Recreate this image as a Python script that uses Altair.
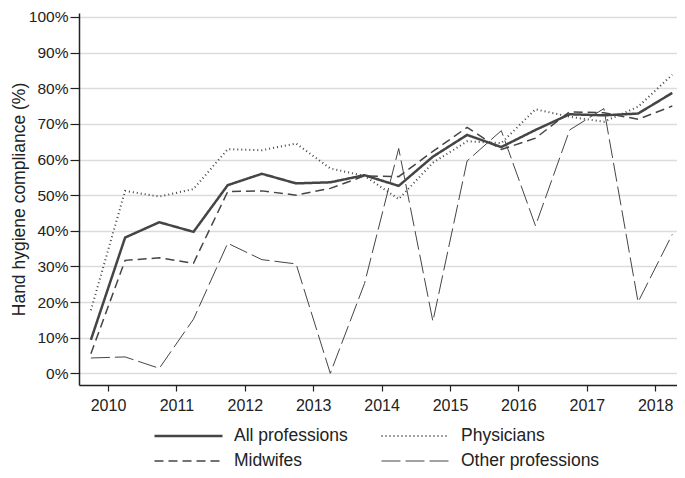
import altair as alt
import pandas as pd

periods = [2009.75, 2010.25, 2010.75, 2011.25, 2011.75, 2012.25, 2012.75, 2013.25, 2013.75,
           2014.25, 2014.75, 2015.25, 2015.75, 2016.25, 2016.75, 2017.25, 2017.75, 2018.25]

all_professions = [9.4, 38.1, 42.4, 39.7, 52.8, 56.0, 53.3, 53.6, 55.6,
                   52.6, 60.8, 66.9, 63.5, 68.3, 72.7, 72.4, 72.9, 78.7]
physicians = [17.7, 51.2, 49.6, 51.7, 62.9, 62.6, 64.5, 57.5, 55.4,
              48.9, 59.1, 65.1, 64.6, 74.1, 72.0, 70.6, 74.8, 83.8]
midwifes = [5.5, 31.7, 32.4, 30.9, 51.0, 51.2, 50.0, 51.9, 55.4,
            55.2, 62.3, 69.0, 62.8, 66.0, 73.4, 73.1, 71.3, 75.0]
other_professions = [4.3, 4.6, 1.4, 15.2, 36.5, 31.9, 30.7, 0.0, 25.2,
                     63.1, 14.6, 59.6, 68.1, 41.4, 68.3, 74.3, 20.0, 39.0]

series_names = ["All professions", "Physicians", "Midwifes", "Other professions"]
series_values = [all_professions, physicians, midwifes, other_professions]
year_ticks = [2010, 2011, 2012, 2013, 2014, 2015, 2016, 2017, 2018]
pct_ticks = [0, 10, 20, 30, 40, 50, 60, 70, 80, 90, 100]

rows = []
for name, vals in zip(series_names, series_values):
    for p, v in zip(periods, vals):
        rows.append({"period": p, "value": v, "group": name})
df = pd.DataFrame(rows)

FONT = "Liberation Sans"

chart = alt.Chart(df).mark_line(color="#454545", interpolate="linear").encode(
    x=alt.X("period:Q",
            scale=alt.Scale(domain=[2009.576, 2018.319], nice=False, zero=False),
            axis=alt.Axis(values=year_ticks, format="d", title=None, grid=False,
                          labelFontSize=16, labelFont=FONT, labelColor="#222",
                          tickSize=6, tickColor="#222", domainColor="#222",
                          domainWidth=1.5, tickWidth=1.2, labelPadding=6)),
    y=alt.Y("value:Q",
            scale=alt.Scale(domain=[-3.28, 101.12], nice=False, zero=False),
            axis=alt.Axis(values=pct_ticks, labelExpr="datum.value + '%'",
                          title="Hand hygiene compliance (%)",
                          titleFont=FONT, titleFontSize=17.5, titleFontWeight="normal",
                          titleColor="#222", titlePadding=0,
                          labelFontSize=15.5, labelFont=FONT, labelColor="#222",
                          tickSize=9, tickColor="#222", domainColor="#222",
                          domainWidth=1.5, tickWidth=1.2, labelPadding=2,
                          grid=True, gridColor="#dcdcdc", gridWidth=1.3)),
    strokeDash=alt.StrokeDash("group:N",
                              scale=alt.Scale(domain=series_names,
                                              range=[[1, 0], [1, 3], [9, 5], [19, 5]]),
                              legend=alt.Legend(title=None)),
    strokeWidth=alt.StrokeWidth("group:N",
                                scale=alt.Scale(domain=series_names,
                                                range=[2.5, 1, 1, 1]),
                                legend=alt.Legend(title=None)),
    detail="group:N",
).properties(
    width=598, height=372,
    padding={"left": 71, "top": 5, "right": 0, "bottom": 85},
    autosize=alt.AutoSizeParams(type="none"),
).configure_view(
    stroke=None
).configure_legend(
    orient="none", legendX=74, legendY=414, columns=2, direction="horizontal",
    symbolType="stroke", symbolSize=4624, symbolStrokeColor="#454545",
    clipHeight=18,
    labelFont=FONT, labelFontSize=17.5, labelColor="#222", labelOffset=10,
    columnPadding=32, rowPadding=7, labelLimit=300,
)

chart.save("out.html", embed_options={"renderer": "svg", "actions": False})
